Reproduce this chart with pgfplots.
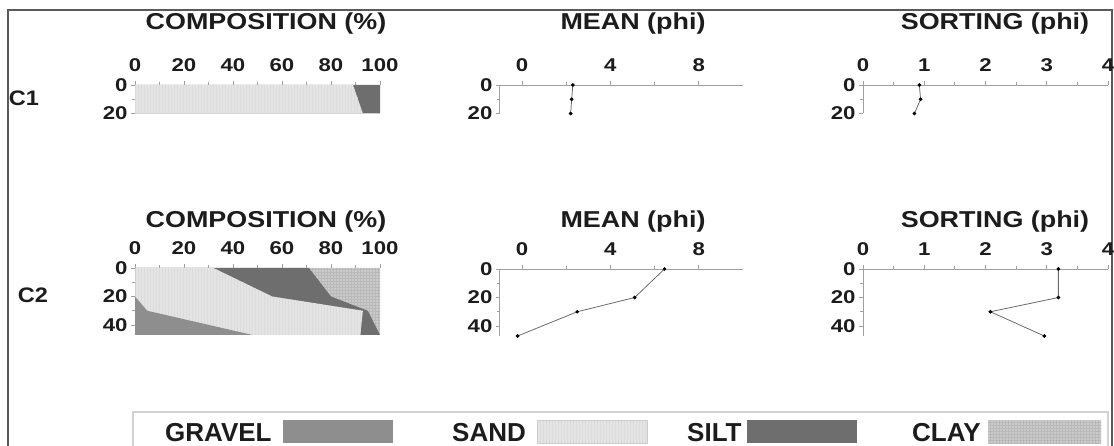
\documentclass[border=0pt]{standalone}
\usepackage{pgfplots}
\pgfplotsset{compat=1.18}
\usepackage{fontspec}
\setmainfont{Liberation Sans}
\newfontfamily\titlefont{Liberation Sans}[FakeStretch=1.17]
\newfontfamily\tickfont{Liberation Sans}[FakeStretch=1.2]
\newfontfamily\rowfont{Liberation Sans}[FakeStretch=1.12]
\usetikzlibrary{patterns}
\definecolor{gravelc}{HTML}{8E8E8E}
\definecolor{sandc}{HTML}{E4E4E4}
\definecolor{siltc}{HTML}{6E6E6E}
\definecolor{clayc}{HTML}{CACACA}
\definecolor{axc}{HTML}{A0A0A0}
\definecolor{framec}{HTML}{5A5A5A}
\definecolor{txtc}{HTML}{1C1C1C}
\definecolor{linec}{HTML}{6A6A6A}

\pgfplotsset{
  depthax/.style={
    scale only axis,
    y dir=reverse,
    axis x line*=top,
    axis y line*=left,
    axis line style={axc, line width=0.9pt, -},
    x axis line style={-}, y axis line style={-},
    xtick pos=upper, ytick pos=left,
    xticklabel pos=upper, yticklabel pos=left,
    tick style={axc, line width=0.9pt},
    major tick length=4pt, minor tick length=3pt,
    tick align=outside,
    minor x tick num=1, minor y tick num=1,
    /pgf/number format/assume math mode=true,
    ticklabel style={font=\tickfont\bfseries\fontsize{18.5}{20}\selectfont, text=txtc},
    xticklabel style={yshift=6pt},
    anchor=origin,
    clip=false,
  },
  comp/.style={depthax, width=245pt, xmin=0, xmax=100, xtick={0,20,...,100}, ymin=0},
  prof/.style={linec, line width=0.8pt, mark=*, mark size=1.4pt, mark options={black, draw=black}},
}
\tikzset{
  sandfill/.style={fill=sandc, draw=none, postaction={pattern=vertical lines, pattern color=gray!28}},
  gravelfill/.style={fill=gravelc, draw=none},
  siltfill/.style={fill=siltc, draw=none},
  clayfill/.style={fill=clayc, draw=none, postaction={pattern=grid, pattern color=gray!55}},
  ttl/.style={font=\titlefont\bfseries\fontsize{23}{26}\selectfont, text=txtc},
  rowl/.style={font=\rowfont\bfseries\fontsize{21}{24}\selectfont, text=txtc},
  legt/.style={font=\bfseries\fontsize{26}{28}\selectfont, text=txtc, inner sep=0pt},
}

\begin{document}
\begin{tikzpicture}
\path[use as bounding box] (0pt,0pt) rectangle (1114pt,-446pt);
% outer frame
\draw[framec, line width=1.2pt] (8pt,-446pt) -- (8pt,-10pt) -- (1112pt,-10pt) -- (1112pt,-446pt);

% ---------- Row C1 ----------
\node[rowl] at (24pt,-98pt) {C1};
\node[ttl] at (266pt,-24pt) {COMPOSITION (\%)};
\node[ttl] at (633pt,-24pt) {MEAN (phi)};
\node[ttl] at (995pt,-24pt) {SORTING (phi)};

% cumulative boundaries: silt (to 100), gravel+sand, gravel
\begin{axis}[comp, at={(135pt,-85pt)}, height=28.5pt, ymax=20, ytick={0,20}]
\addplot[siltfill] coordinates {(0,0) (100,0) (100,10) (100,20) (0,20)} -- cycle;
\addplot[sandfill] coordinates {(0,0) (89,0) (91,10) (93,20) (0,20)} -- cycle;
\end{axis}

\begin{axis}[depthax, at={(522pt,-85pt)}, width=243pt, height=28.5pt,
  xmin=-1, xmax=10, xtick={0,4,8}, ymin=0, ymax=20, ytick={0,20}]
\addplot[prof] coordinates {(2.3,0) (2.25,10) (2.2,20)};
\end{axis}

\begin{axis}[depthax, at={(863pt,-85pt)}, width=245pt, height=28.5pt,
  xmin=0, xmax=4, xtick={0,1,2,3,4}, ymin=0, ymax=20, ytick={0,20}]
\addplot[prof] coordinates {(0.92,0) (0.94,10) (0.84,20)};
\end{axis}

% ---------- Row C2 ----------
\node[rowl] at (33pt,-295pt) {C2};
\node[ttl] at (266pt,-222pt) {COMPOSITION (\%)};
\node[ttl] at (633pt,-222pt) {MEAN (phi)};
\node[ttl] at (995pt,-222pt) {SORTING (phi)};

\begin{axis}[comp, at={(135pt,-268pt)}, height=67pt, ymax=47, ytick={0,20,40}]
\addplot[clayfill] coordinates {(0,0) (100,0) (100,20) (100,30) (100,47) (0,47)} -- cycle;
\addplot[siltfill] coordinates {(0,0) (71,0) (80,20) (95,30) (100,47) (0,47)} -- cycle;
\addplot[sandfill] coordinates {(0,0) (32,0) (56,20) (93,30) (92,47) (0,47)} -- cycle;
\addplot[gravelfill] coordinates {(0,0) (0,0) (0,20) (5,30) (48,47) (0,47)} -- cycle;
\end{axis}

\begin{axis}[depthax, at={(522pt,-269pt)}, width=243pt, height=67pt,
  xmin=-1, xmax=10, xtick={0,4,8}, ymin=0, ymax=47, ytick={0,20,40}]
\addplot[prof] coordinates {(6.45,0) (5.1,20) (2.5,30) (-0.2,47)};
\end{axis}

\begin{axis}[depthax, at={(863pt,-269pt)}, width=245pt, height=67pt,
  xmin=0, xmax=4, xtick={0,1,2,3,4}, ymin=0, ymax=47, ytick={0,20,40}]
\addplot[prof] coordinates {(3.19,0) (3.19,20) (2.08,30) (2.96,47)};
\end{axis}

% ---------- Legend ----------
\draw[gray!35, line width=1.5pt] (133pt,-446pt) -- (133pt,-412pt) -- (1108pt,-412pt) -- (1108pt,-446pt);
\node[legt, anchor=base west] at (165pt,-441pt) {GRAVEL};
\fill[gravelfill] (283pt,-420pt) rectangle (393pt,-443pt);
\node[legt, anchor=base west] at (452pt,-441pt) {SAND};
\path[sandfill] (537pt,-420pt) rectangle (647pt,-443pt);
\draw[gray!40, line width=0.6pt] (537pt,-420pt) rectangle (647pt,-443pt);
\node[legt, anchor=base west] at (687pt,-441pt) {SILT};
\fill[siltfill] (747pt,-420pt) rectangle (857pt,-443pt);
\node[legt, anchor=base west] at (912pt,-441pt) {CLAY};
\path[clayfill] (988pt,-420pt) rectangle (1101pt,-443pt);
\end{tikzpicture}
\end{document}
